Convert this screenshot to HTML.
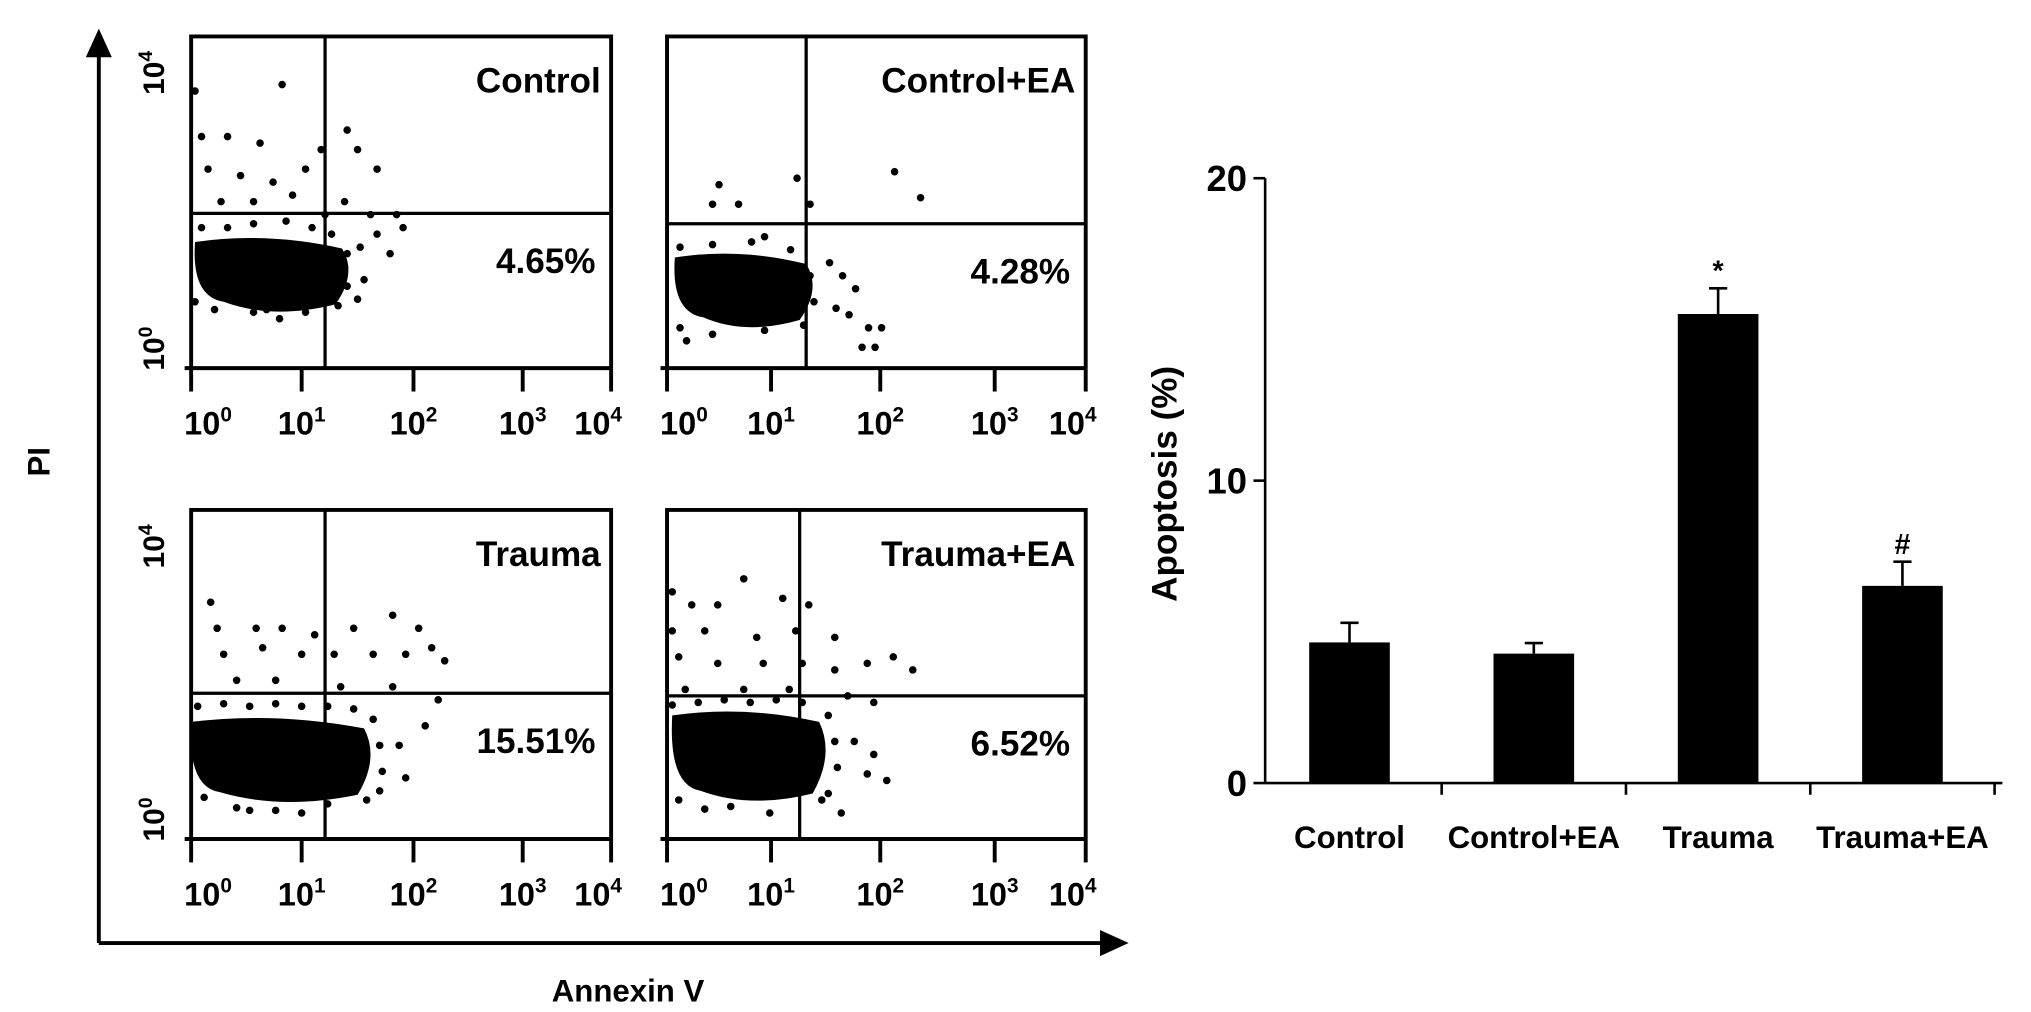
<!DOCTYPE html>
<html><head><meta charset="utf-8"><style>
html,body{margin:0;padding:0;background:#fff}
svg{display:block}
text{font-family:"Liberation Sans",Arial,sans-serif;font-weight:bold;fill:#000}
</style></head><body>
<svg id="fig" width="2031" height="1012" viewBox="0 0 1562 778" preserveAspectRatio="none" xmlns="http://www.w3.org/2000/svg">
<g id="flow">
  <line x1="76" y1="40" x2="76" y2="725" stroke="#000" stroke-width="3"/>
  <path d="M76 22 L66 44 L86 44 Z" fill="#000"/>
  <line x1="76" y1="725" x2="850" y2="725" stroke="#000" stroke-width="3"/>
  <path d="M868 725 L846 715 L846 735 Z" fill="#000"/>
  <text x="38" y="355" font-size="24" text-anchor="middle" transform="rotate(-90 38 355)">PI</text>
  <text x="483" y="770" font-size="24" text-anchor="middle">Annexin V</text>
</g>
<g id="bars"></g>
</svg>
<script>
// ---- bar chart data ----
const categories = ["Control","Control+EA","Trauma","Trauma+EA"];
const apoptosisValues = [4.65, 4.28, 15.51, 6.52];
const errorValues = [0.65, 0.35, 0.85, 0.8];
const significanceMarks = ["", "", "*", "#"];
const yTicks = [0, 10, 20];
// ---- flow panel data ----
const panelTitles = ["Control","Control+EA","Trauma","Trauma+EA"];
const panelPercents = ["4.65%","4.28%","15.51%","6.52%"];
const xTickExps = ["0","1","2","3","4"];

const NS = "http://www.w3.org/2000/svg";
function mk(tag, attrs, parent, txt){
  const e = document.createElementNS(NS, tag);
  for (const k in attrs) e.setAttribute(k, attrs[k]);
  if (txt !== undefined) e.textContent = txt;
  parent.appendChild(e); return e;
}

// ===== Bar chart =====
const bars = document.getElementById('bars');
const axX = 973, y0 = 602, yTop = 137, yMax = 20;
const xL = 973, xR = 1540;
const y = v => y0 - v * (y0 - yTop) / yMax;
const band = (xR - xL) / categories.length;
const cx = i => xL + band * (i + 0.5) - 6;
const barW = 62;

const yl = mk('line', {x1: axX, y1: y(yMax), x2: axX, y2: y0, stroke: '#000', 'stroke-width': 2}, bars);


const xl = mk('line', {x1: xL, y1: y0, x2: xR, y2: y0, stroke: '#000', 'stroke-width': 2}, bars);


yTicks.forEach(t => {
  const tk = mk('line', {x1: axX - 9, y1: y(t), x2: axX, y2: y(t), stroke: '#000', 'stroke-width': 2}, bars);
  
  
  const tl = mk('text', {x: axX - 14, y: y(t) + 10, 'font-size': 28, 'text-anchor': 'end'}, bars, String(t));
  
  
});
for (let i = 1; i <= categories.length; i++) {
  const tx = xL + band * i - 6;
  const tk = mk('line', {x1: tx, y1: y0, x2: tx, y2: y0 + 9, stroke: '#000', 'stroke-width': 2}, bars);
  
  
}
const yt = mk('text', {x: 905, y: 372, 'font-size': 27, 'text-anchor': 'middle', transform: 'rotate(-90 905 372)'}, bars, 'Apoptosis (%)');


categories.forEach((c, i) => {
  const v = apoptosisValues[i], e = errorValues[i];
  const x = cx(i);
  const ln = mk('line', {x1: x, y1: y(v + e), x2: x, y2: y(v), stroke: '#000', 'stroke-width': 2}, bars);
  
  
  const cap = mk('line', {x1: x - 7, y1: y(v + e), x2: x + 7, y2: y(v + e), stroke: '#000', 'stroke-width': 2}, bars);
  
  
  const r = mk('rect', {x: x - barW / 2, y: y(v), width: barW, height: y0 - y(v), fill: '#000'}, bars);
  
  
  const lb = mk('text', {x: x, y: 652, 'font-size': 24, 'text-anchor': 'middle'}, bars, c);
  
  
  if (significanceMarks[i]) {
    const s = mk('text', {x: x, y: y(v + e) - 6, 'font-size': 22, 'text-anchor': 'middle', 'font-weight': 'normal', fill: significanceMarks[i] === '#' ? '#777' : '#000'}, bars, significanceMarks[i]);
    
    
  }
});

// ===== Flow panels =====
const flow = document.getElementById('flow');
const panels = [
  {x0:147, x1:470, y0:28, y1:283, qv:250, qh:164, ticks:[147,232,318,402,470], cloud:[205,210,58,24]},
  {x0:513, x1:835, y0:28, y1:283, qv:620, qh:172, ticks:[513,593,677,765,835], cloud:[568,222,52,24]},
  {x0:147, x1:470, y0:392, y1:645, qv:250, qh:533, ticks:[147,232,318,402,470], cloud:[212,583,68,28]},
  {x0:513, x1:835, y0:392, y1:645, qv:615, qh:535, ticks:[513,593,677,765,835], cloud:[572,580,58,30]}
];
// scattered event dots, offsets relative to each panel's cloud centre (hand-placed)
const sparse = [
  [[-55,-140],[12,-145],[-50,-105],[-30,-105],[-5,-100],[30,-80],[42,-95],[62,-110],[70,-95],[85,-80],[-45,-80],[-20,-75],[5,-70],[20,-60],[60,-55],[80,-45],[100,-45],[-35,-55],[-10,-55],[45,-45],[85,-30],[105,-35],[72,-20],[95,-15],[60,-5],[75,5],[70,20],[-10,30],[10,35],[0,28],[-50,-35],[-30,-35],[-10,-38],[15,-40],[35,-35],[50,-30],[62,-15],[62,10],[55,25],[30,30],[-40,28],[-55,22]],
  [[-15,-80],[45,-85],[120,-90],[140,-70],[-20,-65],[0,-65],[55,-65],[20,-40],[70,-20],[80,-10],[90,0],[75,15],[85,20],[100,30],[110,30],[-40,40],[-20,35],[95,45],[105,45],[-45,-32],[-20,-34],[10,-36],[40,-30],[55,-10],[58,10],[50,28],[20,32],[-45,30]],
  [[-50,-120],[-45,-100],[-15,-100],[5,-100],[30,-95],[60,-100],[90,-110],[110,-100],[120,-85],[-40,-80],[-10,-85],[20,-80],[45,-80],[75,-80],[100,-80],[130,-75],[-30,-60],[0,-60],[50,-55],[90,-55],[125,-45],[115,-25],[95,-10],[100,15],[80,25],[0,40],[-20,40],[40,35],[-60,-40],[-40,-42],[-20,-40],[0,-42],[20,-40],[40,-40],[60,-38],[75,-30],[80,-10],[82,10],[70,32],[-55,30],[-30,38],[20,42]],
  [[-55,-125],[-40,-115],[-20,-115],[0,-135],[30,-120],[50,-115],[-55,-95],[-30,-95],[10,-90],[40,-95],[70,-90],[-50,-75],[-20,-70],[15,-70],[45,-70],[70,-65],[95,-70],[115,-75],[130,-65],[-45,-50],[0,-50],[35,-50],[80,-45],[100,-40],[85,-10],[100,0],[95,15],[110,20],[-10,40],[20,45],[60,35],[75,45],[-55,-38],[-35,-40],[-15,-42],[5,-40],[25,-42],[45,-40],[65,-30],[70,-10],[72,10],[65,30],[-50,35],[-30,42]]
];
panels.forEach((p, i) => {
  const g = mk('g', {}, flow);
  
  
  const st = {stroke: '#000', 'stroke-width': 3, fill: 'none'};
  const box = mk('path', Object.assign({d: `M${p.x0} ${p.y1} L${p.x0} ${p.y0} L${p.x1} ${p.y0} L${p.x1} ${p.y1}`}, st), g);
  
  
  const bl = mk('line', Object.assign({x1: p.x0 - 5, y1: p.y1, x2: p.x1, y2: p.y1}, st), g);
  
  
  const qv = mk('line', {x1: p.qv, y1: p.y0, x2: p.qv, y2: p.y1, stroke: '#000', 'stroke-width': 2.5}, g);
  
  
  const qh = mk('line', {x1: p.x0, y1: p.qh, x2: p.x1, y2: p.qh, stroke: '#000', 'stroke-width': 2.5}, g);
  
  
  p.ticks.forEach((tx, k) => {
    const tk = mk('line', {x1: tx, y1: p.y1, x2: tx, y2: p.y1 + 18, stroke: '#000', 'stroke-width': 3}, g);
    
    
    const lab = mk('text', {x: tx + (k === 0 ? 13 : (k === 4 ? -10 : 0)), y: p.y1 + 51, 'font-size': 25, 'text-anchor': 'middle'}, g);
    
    
    mk('tspan', {}, lab, '10');
    mk('tspan', {dy: -10, 'font-size': 16}, lab, xTickExps[k]);
  });
  if (i % 2 === 0) {
    const t4 = mk('text', {x: 0, y: 0, 'font-size': 23, 'text-anchor': 'middle', transform: `translate(126 ${p.y0 + 28}) rotate(-90)`}, g);
    
    
    mk('tspan', {}, t4, '10'); mk('tspan', {dy: -9, 'font-size': 15}, t4, '4');
    const t0 = mk('text', {x: 0, y: 0, 'font-size': 23, 'text-anchor': 'middle', transform: `translate(126 ${p.y1 - 15}) rotate(-90)`}, g);
    
    
    mk('tspan', {}, t0, '10'); mk('tspan', {dy: -9, 'font-size': 15}, t0, '0');
  }
  const [ccx, ccy, rx, ry] = p.cloud;
  const cl = mk('path', {d: `M${ccx - rx + 3} ${ccy - ry} Q${ccx} ${ccy - ry - 8} ${ccx + rx} ${ccy - ry + 5} Q${ccx + rx + 12} ${ccy} ${ccx + rx - 5} ${ccy + ry} Q${ccx + 5} ${ccy + ry + 12} ${ccx - rx + 25} ${ccy + ry - 2} Q${ccx - rx} ${ccy + ry - 6} ${ccx - rx + 3} ${ccy - ry} Z`, fill: '#000'}, g);
  
  
  sparse[i].forEach(([dx, dy]) => {
    const d = mk('circle', {cx: ccx + dx, cy: ccy + dy, r: 2.9, fill: '#000'}, g);
    
    
  });
  const ti = mk('text', {x: p.x1 - 8, y: p.y0 + 43, 'font-size': 27, 'text-anchor': 'end'}, g, panelTitles[i]);
  
  
  const pc = mk('text', {x: p.x1 - 12, y: p.qh + 46, 'font-size': 27, 'text-anchor': 'end'}, g, panelPercents[i]);
  
  
});
</script>
</body></html>
